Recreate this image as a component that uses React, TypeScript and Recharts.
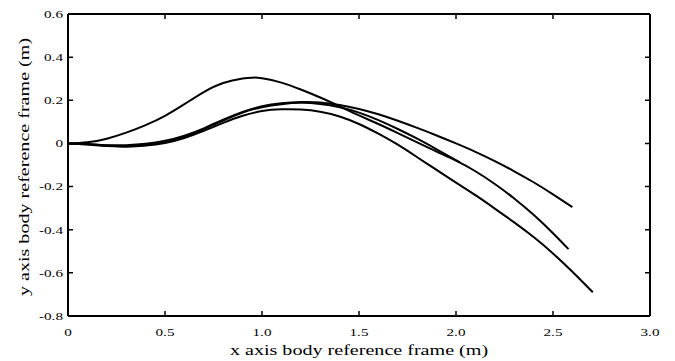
import React from 'react';
import { LineChart, Line, XAxis, YAxis, ReferenceLine } from 'recharts';

// Trajectories in the body reference frame (metres)
const highX = [0, 0.1, 0.2, 0.3, 0.4, 0.5, 0.6, 0.7, 0.8, 0.9, 0.95, 1.0, 1.1, 1.2, 1.3, 1.4, 1.5, 1.6, 1.7, 1.8, 1.9, 2.0, 2.1, 2.2, 2.3, 2.4, 2.5, 2.58];
const highY = [0, 0.005, 0.022, 0.05, 0.085, 0.128, 0.182, 0.238, 0.28, 0.301, 0.305, 0.302, 0.282, 0.25, 0.213, 0.172, 0.13, 0.09, 0.048, 0.005, -0.038, -0.08, -0.129, -0.188, -0.255, -0.331, -0.416, -0.49];

const upperX = [0, 0.1, 0.2, 0.3, 0.4, 0.5, 0.6, 0.7, 0.8, 0.9, 1.0, 1.1, 1.2, 1.3, 1.4, 1.5, 1.6, 1.7, 1.8, 1.9, 2.0, 2.1, 2.2, 2.3, 2.4, 2.5, 2.6];
const upperY = [0, -0.003, -0.008, -0.008, -0.002, 0.012, 0.036, 0.07, 0.11, 0.146, 0.172, 0.186, 0.192, 0.19, 0.178, 0.16, 0.135, 0.105, 0.072, 0.037, 0.0, -0.039, -0.082, -0.129, -0.18, -0.236, -0.295];

const shortX = [0, 0.1, 0.2, 0.3, 0.4, 0.5, 0.6, 0.7, 0.8, 0.9, 1.0, 1.1, 1.2, 1.3, 1.4, 1.5, 1.6, 1.7, 1.8, 1.9, 2.02];
const shortY = [0, -0.005, -0.012, -0.014, -0.008, 0.006, 0.03, 0.066, 0.106, 0.143, 0.168, 0.182, 0.188, 0.183, 0.168, 0.143, 0.108, 0.067, 0.022, -0.027, -0.088];

const lowerX = [0, 0.1, 0.2, 0.3, 0.4, 0.5, 0.6, 0.7, 0.8, 0.9, 1.0, 1.1, 1.2, 1.3, 1.4, 1.5, 1.6, 1.7, 1.8, 1.9, 2.0, 2.1, 2.2, 2.3, 2.4, 2.5, 2.6, 2.705];
const lowerY = [0, -0.004, -0.01, -0.014, -0.01, 0.002, 0.025, 0.058, 0.095, 0.128, 0.15, 0.158, 0.157, 0.147, 0.125, 0.09, 0.045, -0.006, -0.064, -0.123, -0.182, -0.24, -0.302, -0.366, -0.434, -0.51, -0.595, -0.69];

const xTicks = [0, 0.5, 1.0, 1.5, 2.0, 2.5, 3.0];
const xTickLabels = ['0', '0.5', '1.0', '1.5', '2.0', '2.5', '3.0'];
const yTicks = [-0.8, -0.6, -0.4, -0.2, 0, 0.2, 0.4, 0.6];
const yTickLabels = ['-0.8', '-0.6', '-0.4', '-0.2', '0', '0.2', '0.4', '0.6'];

const xTitle = 'x axis body reference frame (m)';
const yTitle = 'y axis body reference frame (m)';

const toPoints = (xs: number[], ys: number[]) => xs.map((x, i) => ({ x, y: ys[i] }));

const series = [
  toPoints(highX, highY),
  toPoints(upperX, upperY),
  toPoints(shortX, shortY),
  toPoints(lowerX, lowerY),
];

// Chart geometry
const WIDTH = 675;
const HEIGHT = 361;
const MARGIN = { top: 14, right: 25, bottom: 0, left: 0 };
const Y_AXIS_W = 68;
const X_AXIS_H = 45;
const PLOT_W = WIDTH - MARGIN.left - MARGIN.right - Y_AXIS_W;
const PLOT_H = HEIGHT - MARGIN.top - MARGIN.bottom - X_AXIS_H;

const FONT = "'Liberation Serif', 'Times New Roman', Times, serif";
const STRETCH = 1.38;
const TICK_LEN = 5;
const FRAME_W = 2;

const labelFor = (ticks: number[], labels: string[], v: number) => {
  const i = ticks.findIndex((t) => Math.abs(t - v) < 1e-9);
  return i >= 0 ? labels[i] : String(v);
};

// Inward tick marks on the bottom and top edges, label below
const BottomTick = (props: any) => {
  const { x, y, payload } = props;
  const top = y - PLOT_H;
  return (
    <g>
      <path d={`M${x},${y}V${y - TICK_LEN}M${x},${top}V${top + TICK_LEN}`} stroke="#000" strokeWidth={1.5} fill="none" />
      <text
        transform={`translate(${x},${y + 19.5}) scale(${STRETCH},1)`}
        textAnchor="middle"
        fontSize={11}
        fontFamily={FONT}
        fill="#000"
      >
        {labelFor(xTicks, xTickLabels, payload.value)}
      </text>
    </g>
  );
};

// Inward tick marks on the left and right edges, label to the left
const LeftTick = (props: any) => {
  const { x, y, payload } = props;
  const right = x + PLOT_W;
  return (
    <g>
      <path d={`M${x},${y}H${x + TICK_LEN}M${right},${y}H${right - TICK_LEN}`} stroke="#000" strokeWidth={1.5} fill="none" />
      <text
        transform={`translate(${x - 5},${y + 3.8}) scale(${STRETCH},1)`}
        textAnchor="end"
        fontSize={11}
        fontFamily={FONT}
        fill="#000"
      >
        {labelFor(yTicks, yTickLabels, payload.value)}
      </text>
    </g>
  );
};

const XTitle = (props: any) => {
  const vb = props.viewBox || {};
  const cx = (vb.x ?? 0) + (vb.width ?? 0) / 2;
  const cy = (vb.y ?? 0) + 38.5;
  return (
    <text
      transform={`translate(${cx},${cy}) scale(1.34,1)`}
      textAnchor="middle"
      fontSize={15}
      fontFamily={FONT}
      fill="#000"
    >
      {xTitle}
    </text>
  );
};

const YTitle = (props: any) => {
  const vb = props.viewBox || {};
  const cy = (vb.y ?? 0) + (vb.height ?? 0) / 2 + 2;
  return (
    <text
      transform={`translate(29,${cy}) rotate(-90) scale(1.34,1)`}
      textAnchor="middle"
      fontSize={15}
      fontFamily={FONT}
      fill="#000"
    >
      {yTitle}
    </text>
  );
};

export default function App() {
  return (
    <div style={{ position: 'fixed', left: 0, top: 0, background: '#fff' }}>
      <LineChart width={WIDTH} height={HEIGHT} margin={MARGIN}>
        <XAxis
          dataKey="x"
          type="number"
          domain={[0, 3]}
          ticks={xTicks}
          interval={0}
          tickSize={0}
          tickMargin={0}
          tick={<BottomTick />}
          axisLine={{ stroke: '#000', strokeWidth: FRAME_W }}
          height={X_AXIS_H}
          label={<XTitle />}
        />
        <YAxis
          dataKey="y"
          type="number"
          domain={[-0.8, 0.6]}
          ticks={yTicks}
          interval={0}
          tickSize={0}
          tickMargin={0}
          tick={<LeftTick />}
          axisLine={{ stroke: '#000', strokeWidth: FRAME_W }}
          width={Y_AXIS_W}
          label={<YTitle />}
        />
        {/* top and right edges of the plot frame */}
        <ReferenceLine y={0.6} stroke="#000" strokeWidth={FRAME_W} ifOverflow="visible" />
        <ReferenceLine x={3} stroke="#000" strokeWidth={FRAME_W} ifOverflow="visible" />
        {series.map((d, i) => (
          <Line
            key={i}
            data={d}
            dataKey="y"
            type="natural"
            stroke="#000"
            strokeWidth={2}
            dot={false}
            activeDot={false}
            isAnimationActive={false}
          />
        ))}
      </LineChart>
    </div>
  );
}
